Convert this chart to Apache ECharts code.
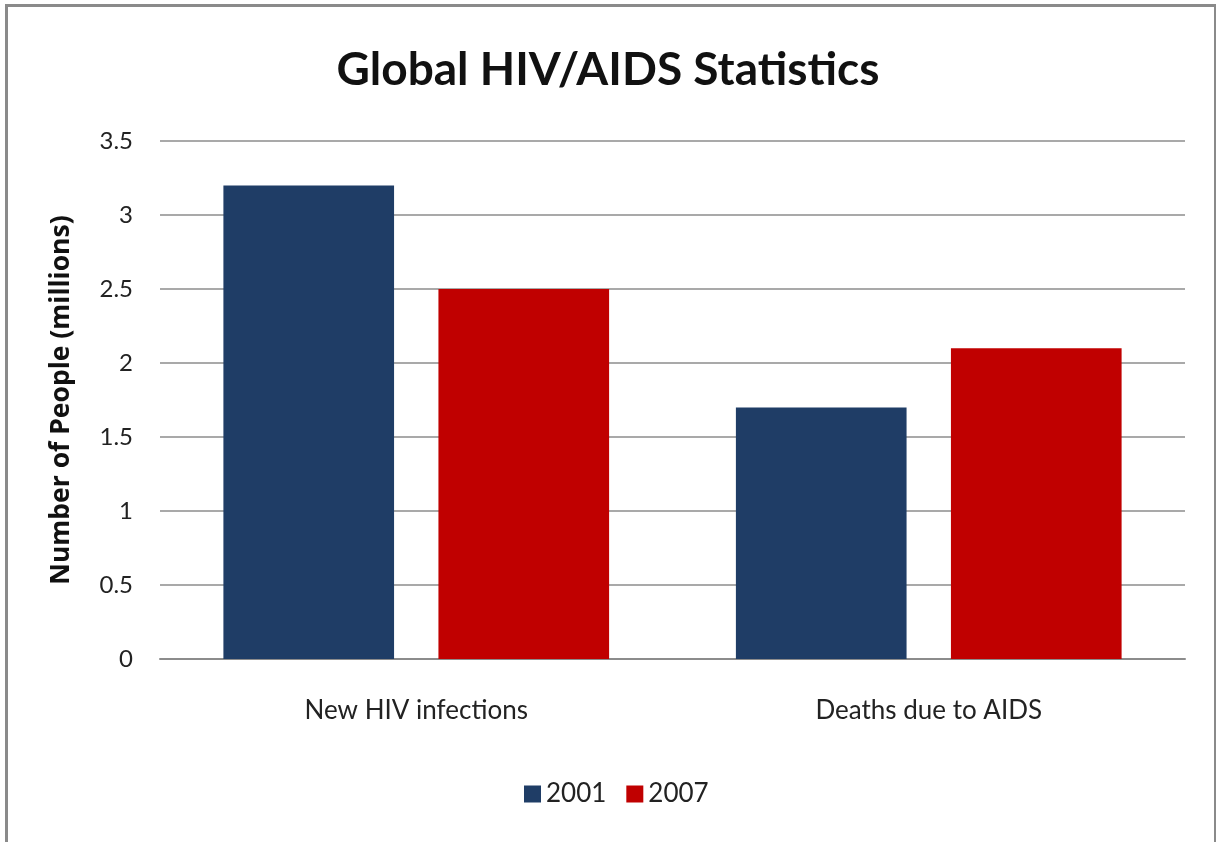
<!DOCTYPE html>
<html>
<head>
<meta charset="utf-8">
<script src="https://cdn.jsdelivr.net/npm/echarts@6/dist/echarts.min.js"></script>
<style>
  html, body { margin: 0; padding: 0; background: #fff; }
  #chart { width: 1216px; height: 842px; }
</style>
</head>
<body>
<div id="chart"></div>
<script>
const categories = ['New HIV infections', 'Deaths due to AIDS'];
const years = ['2001', '2007'];
const values2001 = [3.2, 1.7];
const values2007 = [2.5, 2.1];
const yTicks = [0, 0.5, 1, 1.5, 2, 2.5, 3, 3.5];

const FONT = 'Lato, "Open Sans", sans-serif';

const chart = echarts.init(document.getElementById('chart'));
chart.setOption({
  backgroundColor: '#ffffff',
  animation: false,
  graphic: [{
    type: 'rect',
    left: 4, top: 3,
    shape: { width: 1209, height: 860 },
    style: { fill: 'none', stroke: '#8a8a8a', lineWidth: 3 },
    silent: true
  }],
  title: {
    text: 'Global HIV/AIDS Statistics',
    left: 'center',
    top: 42,
    textStyle: { fontFamily: FONT, fontSize: 46, fontWeight: 'bold', color: '#111' }
  },
  legend: {
    bottom: 30,
    left: 519,
    itemWidth: 17, itemHeight: 17, itemGap: 20,
    icon: 'rect',
    textStyle: { fontFamily: FONT, fontSize: 26, color: '#222' },
    data: years
  },
  grid: { left: 160, right: 31, top: 141, bottom: 183 },
  xAxis: {
    type: 'category',
    data: categories,
    axisTick: { show: false },
    axisLine: { lineStyle: { color: '#8c8c8c', width: 2 } },
    axisLabel: { fontFamily: FONT, fontSize: 26, color: '#222', margin: 39 }
  },
  yAxis: {
    type: 'value',
    min: yTicks[0],
    max: yTicks[yTicks.length - 1],
    interval: 0.5,
    name: 'Number of People (millions)',
    nameLocation: 'middle',
    nameGap: 85,
    nameTextStyle: { fontFamily: '"Open Sans", sans-serif', fontSize: 26.5, fontWeight: 'bold', color: '#111' },
    axisLine: { show: false },
    axisTick: { show: false },
    axisLabel: { fontFamily: FONT, fontSize: 24, color: '#222', margin: 27 },
    splitLine: { lineStyle: { color: '#8c8c8c', width: 1.5 } }
  },
  series: [
    {
      name: years[0], type: 'bar', data: values2001,
      barWidth: '33.3%', barGap: '26%',
      itemStyle: { color: '#1f3d66' }
    },
    {
      name: years[1], type: 'bar', data: values2007,
      barWidth: '33.3%',
      itemStyle: { color: '#c00000' }
    }
  ]
});
</script>
</body>
</html>
